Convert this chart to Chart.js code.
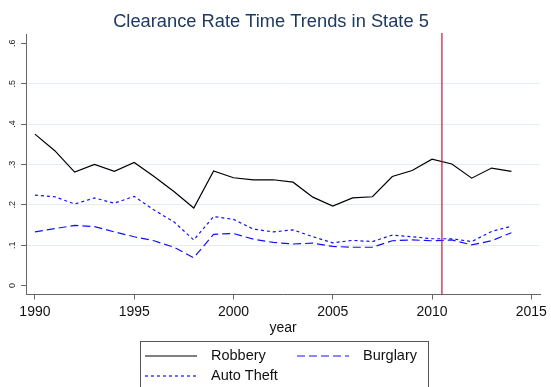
<!DOCTYPE html>
<html>
<head>
<meta charset="utf-8">
<script src="https://cdn.jsdelivr.net/npm/chart.js@4.4.1/dist/chart.umd.min.js"></script>
<style>
  html, body { margin: 0; padding: 0; background: #fff; }
  #wrap { width: 551px; height: 387px; }
</style>
</head>
<body>
<div id="wrap"><canvas id="chart" width="551" height="387"></canvas></div>
<script>
// data
const years = [1990, 1991, 1992, 1993, 1994, 1995, 1996, 1997, 1998, 1999, 2000, 2001, 2002,
               2003, 2004, 2005, 2006, 2007, 2008, 2009, 2010, 2011, 2012, 2013, 2014];
const robbery = [0.375, 0.334, 0.281, 0.300, 0.283, 0.305, 0.270, 0.233, 0.192, 0.284, 0.267, 0.262, 0.262,
                 0.256, 0.219, 0.197, 0.217, 0.220, 0.270, 0.285, 0.313, 0.301, 0.266, 0.291, 0.283];
const burglary = [0.133, 0.141, 0.149, 0.146, 0.133, 0.121, 0.111, 0.095, 0.069, 0.127, 0.129, 0.115, 0.107,
                  0.103, 0.105, 0.097, 0.095, 0.095, 0.111, 0.113, 0.111, 0.113, 0.101, 0.111, 0.131];
const autoTheft = [0.224, 0.220, 0.202, 0.217, 0.204, 0.221, 0.187, 0.158, 0.113, 0.171, 0.164, 0.140, 0.133,
                   0.138, 0.121, 0.106, 0.112, 0.109, 0.125, 0.121, 0.116, 0.116, 0.109, 0.134, 0.147];
const seriesNames = ['Robbery', 'Burglary', 'Auto Theft'];
const xTicks = [1990, 1995, 2000, 2005, 2010, 2015];
const yTicks = [0, 0.1, 0.2, 0.3, 0.4, 0.5, 0.6];
const yTickLabels = ['0', '.1', '.2', '.3', '.4', '.5', '.6'];
const markerYear = 2010.5;

const FONT = 'Liberation Sans, Arial, Helvetica, sans-serif';

function toPoints(vals) {
    return years.map((y, i) => ({ x: y, y: vals[i] }));
}

// y tick labels are vertical in the reference, Chart.js can't rotate them on a y axis
const yLabelPlugin = {
    id: 'yLabels',
    afterDraw(chart) {
        const ctx = chart.ctx;
        const ys = chart.scales.y;
        ctx.save();
        ctx.fillStyle = '#222';
        ctx.font = '9px ' + FONT;
        ctx.textAlign = 'center';
        ctx.textBaseline = 'middle';
        yTicks.forEach((v, i) => {
            const py = ys.getPixelForValue(v);
            ctx.save();
            ctx.translate(12.5, py);
            ctx.rotate(-Math.PI / 2);
            ctx.fillText(yTickLabels[i], 0, 0);
            ctx.restore();
        });
        ctx.restore();
    }
};

// vertical red line
const markerPlugin = {
    id: 'marker',
    afterDatasetsDraw(chart) {
        const ctx = chart.ctx;
        const px = chart.scales.x.getPixelForValue(markerYear);
        ctx.save();
        ctx.strokeStyle = '#c8143c';
        ctx.lineWidth = 1.2;
        ctx.beginPath();
        ctx.moveTo(px, chart.chartArea.top - 2);
        ctx.lineTo(px, chart.chartArea.bottom);
        ctx.stroke();
        ctx.restore();
    }
};

// Stata style legend box below the plot
const legendPlugin = {
    id: 'boxLegend',
    afterDraw(chart) {
        const ctx = chart.ctx;
        const boxX = 140.5, boxY = 341.5, boxW = 288, boxH = 60;
        ctx.save();
        ctx.strokeStyle = '#555';
        ctx.lineWidth = 1;
        ctx.strokeRect(boxX, boxY, boxW, boxH);
        ctx.font = '14.5px ' + FONT;
        ctx.textBaseline = 'middle';
        ctx.fillStyle = '#111';
        chart.data.datasets.forEach((ds, i) => {
            const col = i % 2, row = Math.floor(i / 2);
            const x0 = 145 + col * 152;
            const y0 = 356 + row * 20;
            ctx.save();
            ctx.strokeStyle = ds.borderColor;
            ctx.lineWidth = ds.borderWidth;
            ctx.setLineDash(ds.borderDash || []);
            ctx.beginPath();
            ctx.moveTo(x0, y0);
            ctx.lineTo(x0 + 52, y0);
            ctx.stroke();
            ctx.restore();
            ctx.fillText(ds.label, x0 + 66, y0);
        });
        ctx.restore();
    }
};

const ctx = document.getElementById('chart').getContext('2d');
new Chart(ctx, {
    type: 'line',
    data: {
        datasets: [
            {
                label: seriesNames[0],
                data: toPoints(robbery),
                borderColor: '#000',
                borderWidth: 1.2,
                pointRadius: 0,
                fill: false
            },
            {
                label: seriesNames[1],
                data: toPoints(burglary),
                borderColor: '#1010ff',
                borderWidth: 1.2,
                borderDash: [8, 4],
                pointRadius: 0,
                fill: false
            },
            {
                label: seriesNames[2],
                data: toPoints(autoTheft),
                borderColor: '#1010ff',
                borderWidth: 1.2,
                borderDash: [3, 3],
                pointRadius: 0,
                fill: false
            }
        ]
    },
    options: {
        responsive: false,
        animation: false,
        devicePixelRatio: 1,
        layout: { padding: { left: 0, right: 9, top: 0, bottom: 50.5 } },
        plugins: {
            legend: { display: false },
            tooltip: { enabled: false },
            title: {
                display: true,
                text: 'Clearance Rate Time Trends in State 5',
                color: '#1f3a60',
                font: { family: FONT, size: 18.3, weight: 'normal' },
                padding: { top: 11, bottom: 2 }
            }
        },
        scales: {
            x: {
                type: 'linear',
                min: 1989.55,
                max: 2015.45,
                afterBuildTicks: s => { s.ticks = xTicks.map(v => ({ value: v })); },
                afterFit: s => { s.height = 42; },
                grid: { drawOnChartArea: false, drawTicks: true, tickLength: 5, color: '#666' },
                border: { color: '#666', width: 1 },
                ticks: {
                    color: '#111',
                    padding: 4,
                    maxRotation: 0,
                    font: { family: FONT, size: 14 },
                    callback: v => String(v)
                },
                title: {
                    display: true,
                    text: 'year',
                    color: '#111',
                    font: { family: FONT, size: 14 },
                    padding: { top: 0, bottom: 0 }
                }
            },
            y: {
                type: 'linear',
                min: -0.022,
                max: 0.6205,
                afterBuildTicks: s => { s.ticks = yTicks.map(v => ({ value: v })); },
                afterFit: s => { s.width = 26; },
                grid: {
                    drawTicks: true,
                    tickLength: 5,
                    tickColor: '#666',
                    color: c => (c.tick && (c.tick.value === 0 || c.tick.value === 0.6)) ? 'rgba(0,0,0,0)' : '#e4edf1',
                    lineWidth: 1
                },
                border: { color: '#666', width: 1 },
                ticks: { display: false }
            }
        }
    },
    plugins: [yLabelPlugin, markerPlugin, legendPlugin]
});
</script>
</body>
</html>
